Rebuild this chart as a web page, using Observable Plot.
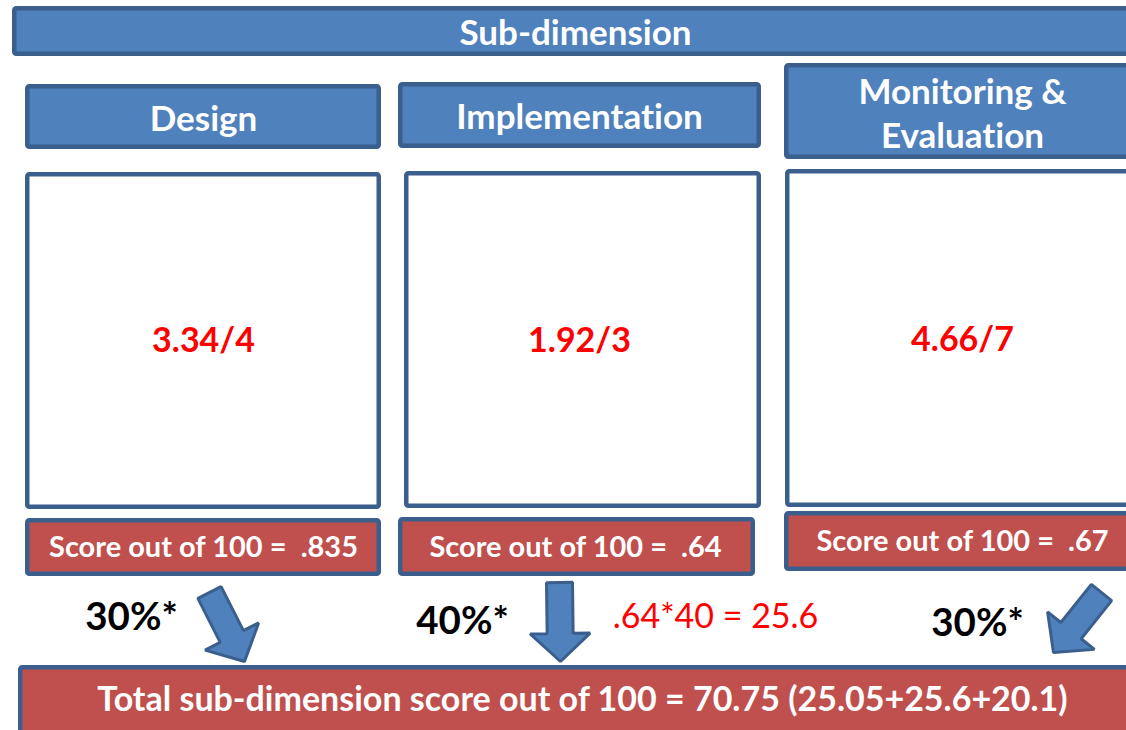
<!DOCTYPE html>
<html>
<head>
<meta charset="utf-8">
<script src="https://cdn.jsdelivr.net/npm/d3@7"></script>
<script src="https://cdn.jsdelivr.net/npm/@observablehq/plot@0.6"></script>
<style>
  html, body { margin: 0; padding: 0; background: #ffffff; }
  #chart svg { display: block; }
  #chart svg text { font-variant-ligatures: none; font-feature-settings: "liga" 0; }
</style>
</head>
<body>
<div id="chart"></div>
<script>
// ---- Data ----
const title = "Sub-dimension";
const subdimensions = ["Design", "Implementation", "Monitoring &\nEvaluation"];
const rawScores = ["3.34/4", "1.92/3", "4.66/7"];
const scoresOutOf100 = [".835", ".64", ".67"];
const weights = ["30%*", "40%*", "30%*"];
const calcNote = ".64*40 = 25.6";
const totalLabel = "Total sub-dimension score out of 100 = 70.75 (25.05+25.6+20.1)";

// ---- Layout (diagram geometry, in pixels) ----
const W = 1126, H = 730;
const BLUE = "#4F81BD", EDGE = "#3A5F8D", RED = "#C0504D";
const sw = 4.5, h = sw / 2;

const headerBoxes = [[25, 381, 84, 149], [398, 761, 82, 148], [784, 1140, 63, 159]];
const whiteBoxes  = [[25, 381, 172, 509], [404, 761, 171, 508], [785, 1140, 169, 507]];
const scoreBoxes  = [[25, 381, 518, 576], [398, 755, 517, 576], [784, 1140, 511, 571]];
const inset = ([a, b, c, d], i) => ({x1: a + h, x2: b - h, y1: c + h, y2: d - h, i});

const colX = [203, 579, 962];
const headerY = [116, 114, 111];
const rawY = [341, 341, 340];
const scoreX = [203, 575, 962];
const scoreY = [547, 547, 541];
const weightPos = [[131, 617], [462, 621], [977, 623]];

const arrowSpecs = [
  {tail: [209, 592], tip: [244, 661]},
  {tail: [559, 582], tip: [560, 661]},
  {tail: [1101, 592], tip: [1053, 652]}
];
const shaftW = 26, headW = 60, headL = 28;
const arrowPts = [];
arrowSpecs.forEach((a, k) => {
  const [tx, ty] = a.tail, [px, py] = a.tip;
  const L = Math.hypot(px - tx, py - ty);
  const ux = (px - tx) / L, uy = (py - ty) / L;
  const nx = -uy, ny = ux;
  const bx = px - ux * headL, by = py - uy * headL;
  const pts = [
    [tx + nx * shaftW / 2, ty + ny * shaftW / 2],
    [bx + nx * shaftW / 2, by + ny * shaftW / 2],
    [bx + nx * headW / 2, by + ny * headW / 2],
    [px, py],
    [bx - nx * headW / 2, by - ny * headW / 2],
    [bx - nx * shaftW / 2, by - ny * shaftW / 2],
    [tx - nx * shaftW / 2, ty - ny * shaftW / 2]
  ];
  pts.forEach(([x, y]) => arrowPts.push({x, y, k}));
});

const font = "Lato, 'Open Sans', sans-serif";

const chart = Plot.plot({
  width: W, height: H, margin: 0,
  x: {domain: [0, W], range: [0, W], axis: null},
  y: {domain: [0, H], range: [0, H], axis: null},
  style: {fontFamily: font, background: "#ffffff"},
  marks: [
    // banner
    Plot.rect([inset([12, 1140, 6, 56], 0)], {x1: "x1", x2: "x2", y1: "y1", y2: "y2", fill: BLUE, stroke: EDGE, strokeWidth: sw, rx: 2}),
    Plot.text([title], {x: [575], y: [33], text: d => d, fill: "white", fontWeight: "bold", fontSize: 35, lineAnchor: "middle"}),
    // headers
    Plot.rect(headerBoxes.map(inset), {x1: "x1", x2: "x2", y1: "y1", y2: "y2", fill: BLUE, stroke: EDGE, strokeWidth: sw, rx: 2}),
    Plot.text(subdimensions, {x: (d, i) => colX[i], y: (d, i) => headerY[i], text: d => d, fill: "white", fontWeight: "bold", fontSize: 35, lineHeight: 1.26, lineAnchor: "middle"}),
    // white boxes
    Plot.rect(whiteBoxes.map(inset), {x1: "x1", x2: "x2", y1: "y1", y2: "y2", fill: "white", stroke: EDGE, strokeWidth: sw, rx: 2}),
    Plot.text(rawScores, {x: (d, i) => colX[i], y: (d, i) => rawY[i], text: d => d, fill: "#FF0000", fontWeight: "bold", fontSize: 34, lineAnchor: "middle"}),
    // score boxes
    Plot.rect(scoreBoxes.map(inset), {x1: "x1", x2: "x2", y1: "y1", y2: "y2", fill: RED, stroke: EDGE, strokeWidth: sw, rx: 2}),
    Plot.text(scoresOutOf100, {x: (d, i) => scoreX[i], y: (d, i) => scoreY[i], text: d => "Score out of 100 =  " + d, fill: "white", fontWeight: "bold", fontSize: 29, lineAnchor: "middle"}),
    // weights
    Plot.text(weights, {x: (d, i) => weightPos[i][0], y: (d, i) => weightPos[i][1], text: d => d, fill: "black", fontWeight: "bold", fontSize: 38.5, lineAnchor: "middle"}),
    Plot.text([calcNote], {x: [715], y: [617], text: d => d, fill: "#FF0000", fontWeight: "normal", fontSize: 34, lineAnchor: "middle"}),
    // arrows
    Plot.line(arrowPts, {x: "x", y: "y", z: "k", curve: "linear-closed", fill: BLUE, stroke: EDGE, strokeWidth: 3, strokeLinejoin: "miter"}),
    // total box
    Plot.rect([inset([18, 1140, 665, 745], 0)], {x1: "x1", x2: "x2", y1: "y1", y2: "y2", fill: RED, stroke: EDGE, strokeWidth: sw, rx: 2}),
    Plot.text([totalLabel], {x: [582], y: [700], text: d => d, fill: "white", fontWeight: "bold", fontSize: 34, lineAnchor: "middle"})
  ]
});
document.getElementById("chart").appendChild(chart);
</script>
</body>
</html>
